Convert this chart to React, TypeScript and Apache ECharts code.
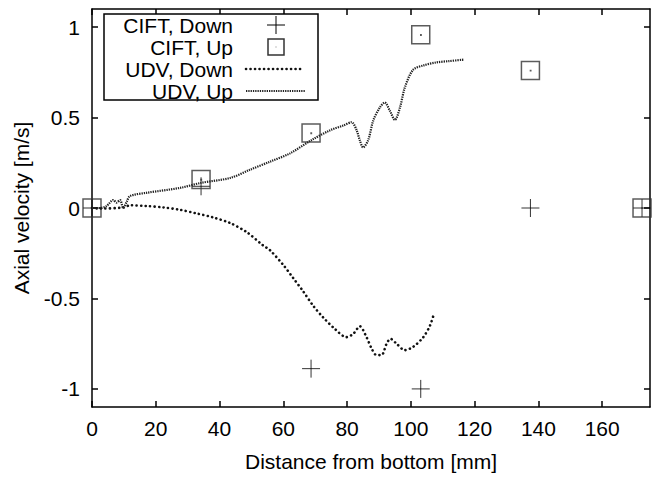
import React, { useEffect, useRef } from "react";
import * as echarts from "echarts";

// CIFT measurements
const ciftX = [0, 34.2, 68.7, 103.1, 137.5, 172.5];
const ciftDown = [0, 0.12, -0.888, -1.0, 0.0, 0.0];
const ciftUp = [0, 0.157, 0.414, 0.957, 0.76, 0.0];

// UDV profiles
const udvDownX = [0, 2.5, 9.8, 11.9, 17.1, 22.4, 27.6, 32.8, 38.0, 43.3, 48.5, 53.6, 55.8, 60.0, 63.1, 66.2, 69.4, 72.5, 76.2, 79.8, 81.9, 84.0, 86.1, 87.7, 89.2, 90.8, 92.4, 93.6, 95.5, 98.1, 100.7, 103.9, 106.0, 107.2];
const udvDownY = [0, -0.003, 0.003, 0.015, 0.011, 0.003, -0.01, -0.03, -0.052, -0.083, -0.133, -0.206, -0.233, -0.315, -0.387, -0.46, -0.541, -0.605, -0.669, -0.714, -0.696, -0.654, -0.714, -0.777, -0.813, -0.813, -0.75, -0.723, -0.75, -0.786, -0.768, -0.714, -0.65, -0.587];
const udvUpX = [0, 2.5, 4.5, 6.7, 7.7, 8.8, 9.8, 10.9, 11.9, 17.1, 27.6, 34.2, 43.3, 49.5, 55.8, 62.1, 68.7, 74.6, 78.8, 81.4, 83.0, 84.0, 85.0, 86.6, 88.2, 90.3, 91.8, 93.4, 95.0, 96.6, 98.1, 100.7, 103.9, 108.1, 112.0, 116.5];
const udvUpY = [0, 0.0, 0.01, 0.044, 0.03, 0.044, 0.0, 0.035, 0.066, 0.084, 0.111, 0.139, 0.166, 0.211, 0.256, 0.302, 0.374, 0.429, 0.456, 0.474, 0.429, 0.374, 0.335, 0.374, 0.483, 0.556, 0.583, 0.538, 0.487, 0.556, 0.665, 0.764, 0.788, 0.805, 0.812, 0.82];

const xTicks = [0, 20, 40, 60, 80, 100, 120, 140, 160];
const yTicks = [-1, -0.5, 0, 0.5, 1];
const legendNames = ["CIFT, Down", "CIFT, Up", "UDV, Down", "UDV, Up"];

const FONT = "'Liberation Sans', Arial, Helvetica, sans-serif";
const FS = 21;
const CROSS = "path://M10,0 L10,20 M0,10 L20,10";
const SQUARE = "path://M0,0 L20,0 L20,20 L0,20 Z M10,10 L10.4,10 L10.4,10.4 L10,10.4 Z";

export default function App() {
  const ref = useRef<HTMLDivElement>(null);
  useEffect(() => {
    if (!ref.current) return;
    const chart = echarts.init(ref.current, undefined, { renderer: "svg" });
    const pairs = (xs: number[], ys: number[]) => xs.map((x, i) => [x, ys[i]]);
    const axisCommon = {
      axisLine: { show: true, onZero: false, lineStyle: { color: "#000", width: 1.5 } },
      axisTick: { show: true, inside: true, length: 6, lineStyle: { color: "#000", width: 1.5 } },
      splitLine: { show: false },
    };
    const lx = 233;
    const rows = [25, 47, 69, 91];
    chart.setOption({
      animation: false,
      backgroundColor: "#fff",
      grid: { left: 92, right: 6, top: 9, bottom: 66 },
      xAxis: [
        {
          type: "value", min: 0, max: 175, position: "bottom",
          ...axisCommon,
          axisTick: { ...axisCommon.axisTick, customValues: xTicks },
          axisLabel: { customValues: xTicks, color: "#000", fontSize: FS, fontFamily: FONT, margin: 11 },
          name: "Distance from bottom [mm]", nameLocation: "middle", nameGap: 44,
          nameTextStyle: { color: "#000", fontSize: FS, fontFamily: FONT },
        },
        {
          type: "value", min: 0, max: 175, position: "top",
          ...axisCommon,
          axisTick: { ...axisCommon.axisTick, customValues: xTicks },
          axisLabel: { show: false },
        },
      ],
      yAxis: [
        {
          type: "value", min: -1.1, max: 1.1, position: "left",
          ...axisCommon,
          axisTick: { ...axisCommon.axisTick, customValues: yTicks },
          axisLabel: { customValues: yTicks, color: "#000", fontSize: FS, fontFamily: FONT, margin: 12 },
          name: "Axial velocity [m/s]", nameLocation: "middle", nameGap: 60,
          nameTextStyle: { color: "#000", fontSize: FS, fontFamily: FONT },
        },
        {
          type: "value", min: -1.1, max: 1.1, position: "right",
          ...axisCommon,
          axisTick: { ...axisCommon.axisTick, customValues: yTicks },
          axisLabel: { show: false },
        },
      ],
      series: [
        {
          name: legendNames[2], type: "line", showSymbol: false, smooth: 0.3,
          data: pairs(udvDownX, udvDownY),
          lineStyle: { color: "#111", width: 2.6, type: [0.1, 4.4], cap: "round" },
        },
        {
          name: legendNames[3], type: "line", showSymbol: false, smooth: 0.3,
          data: pairs(udvUpX, udvUpY),
          lineStyle: { color: "#222", width: 2.2, type: [1.3, 1], cap: "butt" },
        },
        {
          name: legendNames[0], type: "scatter", symbol: CROSS, symbolSize: 18,
          data: pairs(ciftX, ciftDown),
          itemStyle: { color: "transparent", borderColor: "#000", borderWidth: 1 },
        },
        {
          name: legendNames[1], type: "scatter", symbol: SQUARE, symbolSize: 18,
          data: pairs(ciftX, ciftUp),
          itemStyle: { color: "transparent", borderColor: "#333", borderWidth: 1.5 },
        },
      ],
      graphic: [
        {
          type: "rect", shape: { x: 104, y: 14, width: 214, height: 86 },
          style: { fill: "#fff", stroke: "#000", lineWidth: 1.5 }, z: 100,
        },
        ...legendNames.map((n, i) => ({
          type: "text", x: lx, y: rows[i], z: 101,
          style: { text: n, fill: "#000", fontSize: FS, fontFamily: FONT, align: "right", verticalAlign: "middle" },
        })),
        { type: "line", z: 101, shape: { x1: 276, y1: rows[0] - 9, x2: 276, y2: rows[0] + 9 }, style: { stroke: "#000", lineWidth: 1 } },
        { type: "line", z: 101, shape: { x1: 267, y1: rows[0], x2: 285, y2: rows[0] }, style: { stroke: "#000", lineWidth: 1 } },
        { type: "rect", z: 101, shape: { x: 268, y: rows[1] - 8, width: 16, height: 16 }, style: { fill: "none", stroke: "#333", lineWidth: 1.5 } },
        { type: "rect", z: 101, shape: { x: 275.6, y: rows[1] - 0.4, width: 0.8, height: 0.8 }, style: { fill: "#666" } },
        { type: "line", z: 101, shape: { x1: 246, y1: rows[2], x2: 302, y2: rows[2] }, style: { stroke: "#111", lineWidth: 2.6, lineDash: [0.1, 4.4], lineCap: "round" } },
        { type: "line", z: 101, shape: { x1: 246, y1: rows[3], x2: 305, y2: rows[3] }, style: { stroke: "#222", lineWidth: 2.2, lineDash: [1.3, 1] } },
      ],
    });
    return () => chart.dispose();
  }, []);
  return <div ref={ref} style={{ position: "fixed", left: 0, top: 0, width: 656, height: 477 }} />;
}
